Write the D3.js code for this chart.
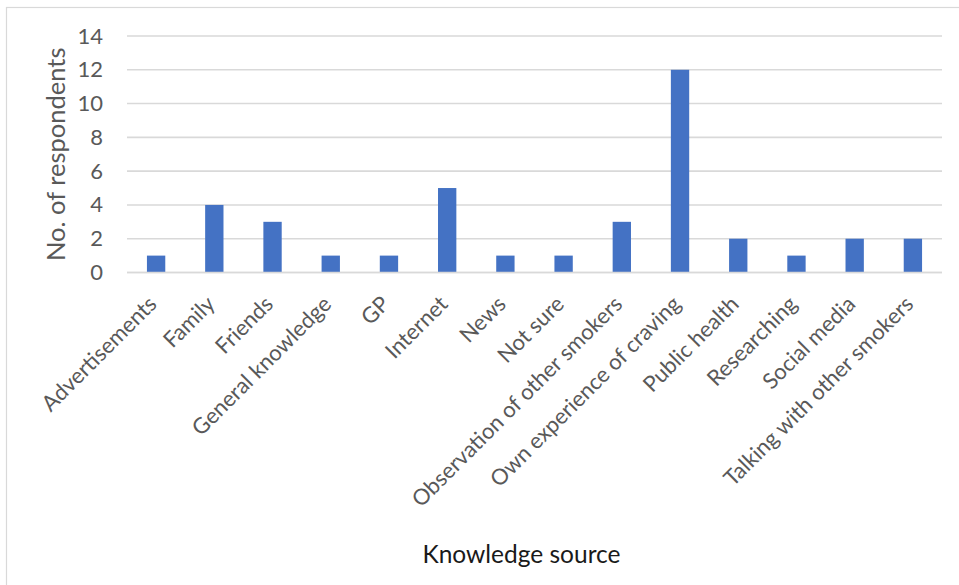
<!DOCTYPE html>
<html>
<head>
<meta charset="utf-8">
<script src="https://cdn.jsdelivr.net/npm/d3@7/dist/d3.min.js"></script>
<style>
  html, body { margin: 0; padding: 0; background: #fff; }
  svg { display: block; }
  text { font-family: Lato, "Open Sans", sans-serif; }
</style>
</head>
<body>
<svg id="chart" width="959" height="585"></svg>
<script>
// Knowledge sources reported by respondents
const categories = [
  "Advertisements", "Family", "Friends", "General knowledge", "GP", "Internet",
  "News", "Not sure", "Observation of other smokers", "Own experience of craving",
  "Public health", "Researching", "Social media", "Talking with other smokers"
];
const respondents = [1, 4, 3, 1, 1, 5, 1, 1, 3, 12, 2, 1, 2, 2];
const yTicks = [0, 2, 4, 6, 8, 10, 12, 14];
const yTitle = "No. of respondents";
const xTitle = "Knowledge source";

const svg = d3.select("#chart");
const W = 959, H = 585;
const plot = { left: 127, right: 942, top: 36, bottom: 272.5 };

// outer chart frame
svg.append("rect")
  .attr("x", 6.5).attr("y", 7.5)
  .attr("width", W + 20).attr("height", H + 20)
  .attr("fill", "#fff").attr("stroke", "#d9d9d9").attr("stroke-width", 1.2);

const x = d3.scaleBand()
  .domain(categories)
  .range([plot.left, plot.right])
  .paddingInner(0.685).paddingOuter(0.3425);

const y = d3.scaleLinear()
  .domain([0, 14])
  .range([plot.bottom, plot.top]);

// horizontal gridlines
svg.append("g")
  .selectAll("line")
  .data(yTicks)
  .join("line")
  .attr("x1", plot.left).attr("x2", plot.right)
  .attr("y1", d => y(d)).attr("y2", d => y(d))
  .attr("stroke", "#d9d9d9").attr("stroke-width", 1.6);

// y axis labels
const yAxis = d3.axisLeft(y).tickValues(yTicks).tickSize(0).tickPadding(24);
svg.append("g")
  .attr("transform", `translate(${plot.left},0)`)
  .call(yAxis)
  .call(g => g.select(".domain").remove())
  .call(g => g.selectAll("text")
    .attr("fill", "#595959")
    .style("font-family", "Lato, sans-serif")
    .style("font-size", "22px"));

// bars
svg.append("g")
  .selectAll("rect")
  .data(categories)
  .join("rect")
  .attr("x", d => x(d))
  .attr("width", x.bandwidth())
  .attr("y", (d, i) => y(respondents[i]))
  .attr("height", (d, i) => y(0) - y(respondents[i]))
  .attr("fill", "#4472c4");

// baseline redrawn over bar feet
svg.append("line")
  .attr("x1", plot.left).attr("x2", plot.right)
  .attr("y1", y(0)).attr("y2", y(0))
  .attr("stroke", "#d9d9d9").attr("stroke-width", 1.6);

// category labels, rotated 45 degrees
const xAxis = d3.axisBottom(x).tickSize(0).tickPadding(0);
svg.append("g")
  .attr("transform", `translate(0,${plot.bottom})`)
  .call(xAxis)
  .call(g => g.select(".domain").remove())
  .call(g => g.selectAll("text")
    .attr("fill", "#595959")
    .style("font-family", "Lato, sans-serif")
    .style("font-size", "22px")
    .attr("text-anchor", "end")
    .attr("dy", null)
    .attr("y", 0)
    .attr("transform", "translate(-2,29) rotate(-45)")
    .attr("dominant-baseline", "middle"));

// axis titles
svg.append("text")
  .attr("transform", `translate(65,${(plot.top + plot.bottom) / 2}) rotate(-90)`)
  .attr("text-anchor", "middle")
  .attr("fill", "#595959")
  .style("font-size", "25.5px")
  .text(yTitle);

svg.append("text")
  .attr("x", 521.5).attr("y", 563)
  .attr("text-anchor", "middle")
  .attr("fill", "#1a1a1a")
  .style("font-size", "24.5px")
  .text(xTitle);
</script>
</body>
</html>
